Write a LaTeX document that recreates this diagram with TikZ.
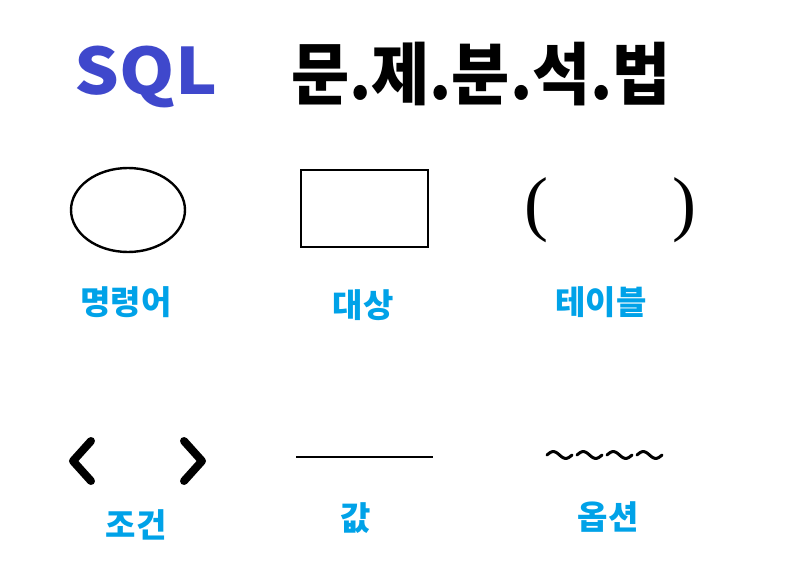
\documentclass[tikz,border=0pt]{standalone}
\usepackage{fontspec}
\usetikzlibrary{shapes.geometric}
\newfontfamily\kr{Noto Sans CJK KR}
\newfontfamily\serifp{Liberation Serif}
\definecolor{sqlblue}{HTML}{3F48CC}
\definecolor{lblue}{HTML}{00A2E8}
\begin{document}
\begin{tikzpicture}[x=1pt,y=-1pt,
  lbl/.style={font=\kr\bfseries\fontsize{33}{33}\selectfont, text=lblue, inner sep=0pt},
  shp/.style={draw=black, line width=2.4pt},
  brk/.style={draw=black, line width=8pt, line cap=round, line join=round}]
\useasboundingbox (0,0) rectangle (800,578);
\fill[white] (0,0) rectangle (800,578);
% title
\node[inner sep=0pt, text=sqlblue, font=\kr\bfseries\fontsize{64}{64}\selectfont, xscale=1.1] (sql) at (146,77) {SQL};
\node[inner sep=0pt, font=\kr\bfseries\fontsize{68}{68}\selectfont, xscale=0.93] (title) at (481,74) {문.제.분.석.법};
% shapes
\node[shp, ellipse, minimum width=114, minimum height=84, inner sep=0pt] (ell) at (128,210) {};
\node[shp, rectangle, minimum width=127, minimum height=77, inner sep=0pt] (rect) at (364.5,208.5) {};
\node[inner sep=0pt, font=\serifp\fontsize{72}{72}\selectfont] (lp) at (536,210) {(};
\node[inner sep=0pt, font=\serifp\fontsize{72}{72}\selectfont] (rp) at (684,210) {)};
% labels row 1
\node[lbl] (l1) at (126,302) {명령어};
\node[lbl] (l2) at (363,305) {대상};
\node[lbl] (l3) at (601,302) {테이블};
% angle brackets
\coordinate (a1) at (91,441);
\coordinate (a2) at (73,461);
\coordinate (a3) at (91,481);
\draw[brk] (a1) -- (a2) -- (a3);
\coordinate (b1) at (184,441);
\coordinate (b2) at (202,461);
\coordinate (b3) at (184,481);
\draw[brk] (b1) -- (b2) -- (b3);
% line
\coordinate (v1) at (296,457);
\coordinate (v2) at (433,457);
\draw[draw=black, line width=2.4pt] (v1) -- (v2);
% tildes
\foreach \i in {0,1,2,3} {
  \draw[line width=3pt, line cap=round, domain=0:1, samples=30, smooth, shift={(547+\i*30,455)}]
    plot (\x*25, {-3.4*sin(\x*360)});
}
% labels row 2
\node[lbl] (l4) at (136,525) {조건};
\node[lbl] (l5) at (356,518) {값};
\node[lbl] (l6) at (608,517) {옵션};
\end{tikzpicture}
\end{document}
